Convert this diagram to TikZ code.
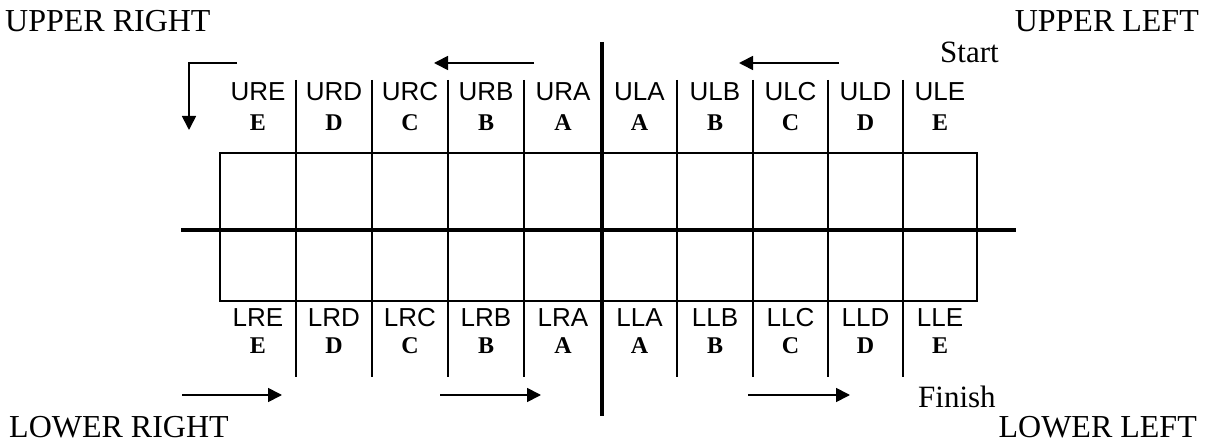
\documentclass[tikz,border=0pt]{standalone}
\usepackage{fontspec}
\setmainfont{Liberation Serif}
\newfontfamily\handfont{Liberation Sans}
\usetikzlibrary{arrows.meta}

\begin{document}
\begin{tikzpicture}[x=1pt,y=-1pt, colline/.style={line width=1.7pt,draw=black}, axisline/.style={line width=4.5pt,draw=black}, arrowstyle/.style={-{Triangle[length=14pt,width=14pt]},line width=1.7pt}, hand/.style={font=\handfont\fontsize{26}{29}\selectfont,inner sep=0pt}, letter/.style={font=\bfseries\fontsize{24}{28}\selectfont,inner sep=0pt}, corner/.style={font=\fontsize{32}{36}\selectfont,inner sep=0pt}]
 \useasboundingbox (0,0) rectangle (1205,446);

 \coordinate (tl) at (220,153);
 \coordinate (br) at (977,301);
 \coordinate (hl) at (181,230);
 \coordinate (hr) at (1016,230);
 \coordinate (vt) at (602,42);
 \coordinate (vb) at (602,416);

    \draw[line width=2.2pt] (tl) rectangle (br);
\foreach \x in {296,372,448,524,677,753,828,903}
			\draw[colline] (\x,80) -- (\x,377);
    \draw[axisline] (hl) -- (hr);
    \draw[axisline] (vt) -- (vb);

\foreach \x/\u/\l/\b [count=\i] in {258/URE/LRE/E,334/URD/LRD/D,410/URC/LRC/C,486/URB/LRB/B,563/URA/LRA/A,639.5/ULA/LLA/A,715/ULB/LLB/B,790.5/ULC/LLC/C,865.5/ULD/LLD/D,940/ULE/LLE/E}
 {
  \node[hand] (u\i) at (\x,92) {\u};
  \node[letter] (bu\i) at (\x,123) {\b};
  \node[hand] (l\i) at (\x,318) {\l};
  \node[letter] (bl\i) at (\x,346) {\b};
 }

	\node[corner,anchor=west] (ur) at (5,21) {UPPER RIGHT};
	\node[corner,anchor=east] (ul) at (1199,21) {UPPER LEFT};
	\node[corner,anchor=west] (lr) at (9,427) {LOWER RIGHT};
	\node[corner,anchor=east] (ll) at (1197,427) {LOWER LEFT};
	\node[corner,anchor=west,font=\fontsize{31}{35}\selectfont] (start) at (940,52) {Start};
	\node[corner,anchor=west,font=\fontsize{31}{35}\selectfont] (finish) at (918,397) {Finish};

  % moves along the top
  \coordinate (t1s) at (237,63);
  \coordinate (t1c) at (189,63);
  \coordinate (t1e) at (189,130);
  \coordinate (t2s) at (534,63);
  \coordinate (t2e) at (434,63);
  \coordinate (t3s) at (839,63);
  \coordinate (t3e) at (739,63);
  \draw [arrowstyle] (t1s) -- (t1c) -- (t1e);
  \draw [arrowstyle] (t2s) -- (t2e);
  \draw [arrowstyle] (t3s) -- (t3e);

  % moves along the bottom
  \coordinate (b1s) at (182,395);
  \coordinate (b1e) at (282,395);
  \coordinate (b2s) at (440,395);
  \coordinate (b2e) at (541,395);
  \coordinate (b3s) at (748,395);
  \coordinate (b3e) at (850,395);
  \draw [arrowstyle] (b1s) -- (b1e);
  \draw [arrowstyle] (b2s) -- (b2e);
  \draw [arrowstyle] (b3s) -- (b3e);
\end{tikzpicture}
\end{document}
